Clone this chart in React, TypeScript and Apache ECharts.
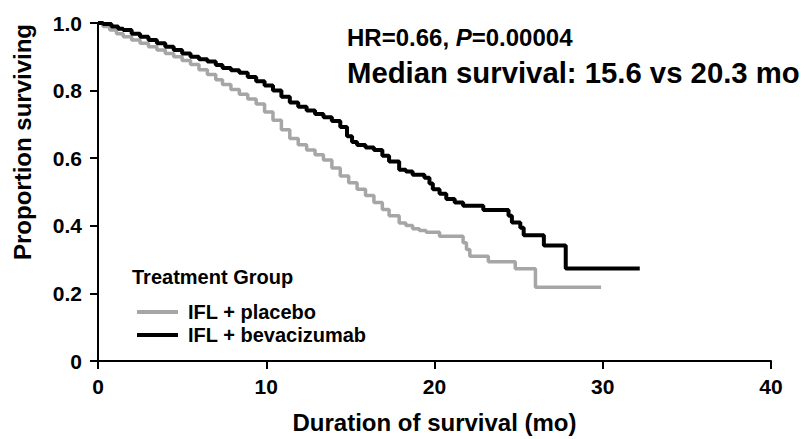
import React, { useEffect, useRef } from "react";
import * as echarts from "echarts";

const FONT = "'Liberation Sans', Arial, Helvetica, sans-serif";

const xTicks = [0, 10, 20, 30, 40];
const yTicks = [0, 0.2, 0.4, 0.6, 0.8, 1.0];
const seriesNames = ["IFL + placebo", "IFL + bevacizumab"];
const legendTitle = "Treatment Group";
const xTitle = "Duration of survival (mo)";
const yTitle = "Proportion surviving";
const hrText = ["HR=0.66, ", "P", "=0.00004"];
const medianText = "Median survival: 15.6 vs 20.3 mo";

const placeboMonths = [
  0, 0.3, 0.7, 1.1, 1.5, 2.0, 2.5, 3.0, 3.5, 4.0, 4.5, 5.0, 5.5, 6.0, 6.5, 7.0, 7.4, 7.9, 8.4, 8.9,
  9.4, 9.9, 10.4, 10.9, 11.4, 11.9, 12.4, 12.9, 13.4, 13.9, 14.4, 14.9, 15.4, 15.9, 16.4, 16.9,
  17.3, 17.9, 18.3, 18.7, 19.1, 19.5, 20.3, 21.7, 21.9, 22.1, 23.2, 24.8, 26.0, 29.9,
];
const placeboSurv = [
  1.0, 0.99, 0.979, 0.968, 0.959, 0.95, 0.94, 0.93, 0.92, 0.91, 0.9, 0.889, 0.877, 0.862, 0.848,
  0.832, 0.818, 0.803, 0.789, 0.775, 0.76, 0.737, 0.712, 0.684, 0.658, 0.64, 0.624, 0.61, 0.595,
  0.571, 0.547, 0.527, 0.508, 0.49, 0.469, 0.448, 0.43, 0.408, 0.401, 0.391, 0.386, 0.381, 0.369,
  0.35, 0.33, 0.31, 0.294, 0.273, 0.218, 0.218,
];

const bevMonths = [
  0, 0.3, 0.8, 1.2, 1.5, 2.0, 2.5, 3.0, 3.5, 4.0, 4.5, 5.0, 5.5, 6.0, 6.5, 7.0, 7.4, 7.9, 8.4, 8.9,
  9.4, 9.9, 10.4, 10.9, 11.4, 11.9, 12.4, 12.9, 13.4, 13.9, 14.4, 14.8, 15.1, 15.4, 15.9, 16.4,
  16.9, 17.3, 17.9, 18.3, 18.7, 19.4, 19.7, 19.9, 20.3, 20.7, 21.2, 21.7, 22.9, 24.4, 24.6, 25.1,
  25.3, 26.5, 27.8, 32.2,
];
const bevSurv = [
  1.0, 0.997, 0.99, 0.983, 0.979, 0.968, 0.959, 0.95, 0.94, 0.93, 0.92, 0.91, 0.9, 0.893, 0.886,
  0.876, 0.867, 0.86, 0.853, 0.84, 0.828, 0.815, 0.8, 0.782, 0.765, 0.752, 0.741, 0.731, 0.721,
  0.71, 0.692, 0.665, 0.648, 0.639, 0.632, 0.624, 0.607, 0.59, 0.566, 0.561, 0.551, 0.542, 0.525,
  0.508, 0.495, 0.479, 0.469, 0.459, 0.447, 0.43, 0.41, 0.394, 0.372, 0.342, 0.274, 0.274,
];

const GRAY = "#a6a6a6";
const BLACK = "#000000";

export default function App() {
  const ref = useRef<HTMLDivElement>(null);

  useEffect(() => {
    if (!ref.current) return;
    const chart = echarts.init(ref.current, null, { renderer: "svg" });

    const axisCommon = {
      type: "value" as const,
      axisLine: { show: true, onZero: false, lineStyle: { color: "#000", width: 2 } },
      axisTick: { show: true, length: 8, lineStyle: { color: "#000", width: 2 } },
      splitLine: { show: false },
    };

    chart.setOption({
      animation: false,
      backgroundColor: "#ffffff",
      grid: { left: 98, right: 36, top: 23, bottom: 73, containLabel: false },
      xAxis: {
        ...axisCommon,
        min: xTicks[0],
        max: xTicks[xTicks.length - 1],
        interval: xTicks[1] - xTicks[0],
        axisLabel: {
          fontSize: 21,
          fontWeight: "bold",
          color: "#000",
          fontFamily: FONT,
          margin: 15,
        },
        name: xTitle,
        nameLocation: "middle",
        nameGap: 49,
        nameTextStyle: { fontSize: 24, fontWeight: "bold", color: "#000", fontFamily: FONT },
      },
      yAxis: {
        ...axisCommon,
        min: yTicks[0],
        max: yTicks[yTicks.length - 1],
        interval: 0.2,
        axisLabel: {
          fontSize: 21,
          fontWeight: "bold",
          color: "#000",
          fontFamily: FONT,
          margin: 16,
          formatter: (v: number) => (v === 0 ? "0" : v.toFixed(1)),
        },
      },
      legend: {
        data: seriesNames,
        orient: "vertical",
        left: 132,
        top: 297,
        icon: "rect",
        itemWidth: 41,
        itemHeight: 4,
        itemGap: 3,
        textStyle: {
          fontSize: 20,
          fontWeight: "bold",
          color: "#000",
          fontFamily: FONT,
          padding: [0, 0, 0, 5],
        },
      },
      graphic: [
        {
          type: "text",
          x: 22,
          y: 142,
          rotation: Math.PI / 2,
          style: {
            text: yTitle,
            fontSize: 24,
            fontWeight: "bold",
            fontFamily: FONT,
            fill: "#000",
            align: "center",
            verticalAlign: "middle",
          },
        },
        {
          type: "text",
          x: 132,
          y: 277,
          style: {
            text: legendTitle,
            fontSize: 20,
            fontWeight: "bold",
            fontFamily: FONT,
            fill: "#000",
            align: "left",
            verticalAlign: "middle",
          },
        },
        {
          type: "text",
          x: 347,
          y: 37,
          style: {
            text: `{a|${hrText[0]}}{b|${hrText[1]}}{a|${hrText[2]}}`,
            align: "left",
            verticalAlign: "middle",
            rich: {
              a: { fontSize: 24, fontWeight: "bold", fontFamily: FONT, fill: "#000", color: "#000" },
              b: {
                fontSize: 24,
                fontWeight: "bold",
                fontStyle: "italic",
                fontFamily: FONT,
                fill: "#000",
                color: "#000",
              },
            },
          },
        },
        {
          type: "text",
          x: 347,
          y: 72,
          style: {
            text: medianText,
            fontSize: 29.3,
            fontWeight: "bold",
            fontFamily: FONT,
            fill: "#000",
            align: "left",
            verticalAlign: "middle",
          },
        },
      ],
      series: [
        {
          name: seriesNames[0],
          type: "line",
          step: "end",
          showSymbol: false,
          symbol: "none",
          data: placeboMonths.map((m, i) => [m, placeboSurv[i]]),
          lineStyle: { color: GRAY, width: 3.5 },
          itemStyle: { color: GRAY },
          z: 2,
        },
        {
          name: seriesNames[1],
          type: "line",
          step: "end",
          showSymbol: false,
          symbol: "none",
          data: bevMonths.map((m, i) => [m, bevSurv[i]]),
          lineStyle: { color: BLACK, width: 4 },
          itemStyle: { color: BLACK },
          z: 3,
        },
      ],
    });

    return () => chart.dispose();
  }, []);

  return (
    <div
      ref={ref}
      style={{ position: "fixed", left: 0, top: 0, width: 807, height: 439, background: "#fff" }}
    />
  );
}
